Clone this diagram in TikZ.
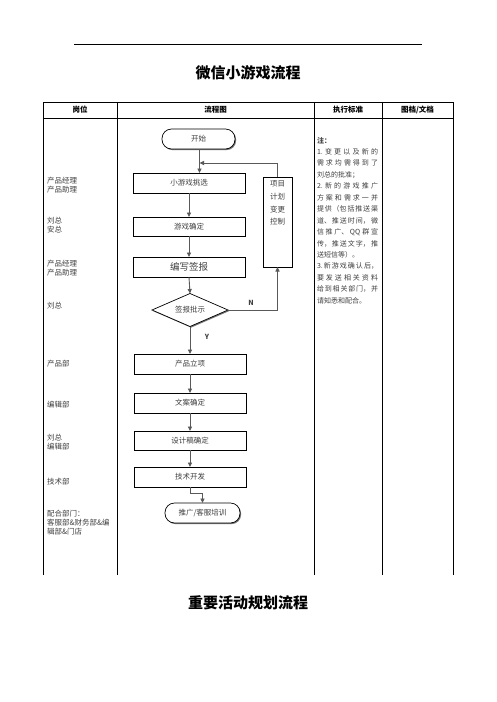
\documentclass[tikz,border=0pt]{standalone}
\usepackage{fontspec}
\setmainfont{Noto Sans CJK SC}
\usetikzlibrary{arrows.meta,shapes.geometric,shadows}
\XeTeXlinebreaklocale "zh"
\XeTeXlinebreakskip=0pt plus 3pt
\definecolor{txt}{gray}{0.25}
\definecolor{conn}{gray}{0.35}
\tikzset{
  every node/.style={inner sep=0pt, outer sep=0pt},
  grid/.style={line width=0.8pt, black},
  head/.style={font=\fontsize{7.5}{9}\selectfont\bfseries},
  ttl/.style={font=\fontsize{15}{17}\selectfont\bfseries},
  role/.style={anchor=west, align=left, text=txt, font=\fontsize{7.5}{9}\selectfont},
  shad/.style={drop shadow={shadow xshift=1.1pt, shadow yshift=-1.1pt, fill=black!55, opacity=1}},
  stepbox/.style={draw, line width=0.7pt, fill=white, shad, minimum width=112pt, minimum height=20pt, text=txt, font=\fontsize{7.5}{9}\selectfont},
  term/.style={draw, line width=0.7pt, fill=white, shad, rounded corners=9.5pt, minimum height=20pt, text=txt, font=\fontsize{7.5}{9}\selectfont},
  decide/.style={draw, line width=0.7pt, fill=white, shad, shape=diamond, aspect=2.3, minimum width=76pt, minimum height=33pt, text=txt, font=\fontsize{7.5}{9}\selectfont},
  arr/.style={draw=conn, line width=0.9pt, -{Triangle[width=4pt,length=4.5pt]}},
  lbl/.style={font=\fontsize{7}{8}\selectfont\bfseries, text=txt},
}
\begin{document}
\begin{tikzpicture}[x=1pt,y=-1pt]
\useasboundingbox (0,0) rectangle (496,702);
\fill[white] (0,0) rectangle (496,702);

% top rule
\draw[line width=0.8pt] (74,44) -- (422,44);
\node[ttl] (t1) at (248,73) {微信小游戏流程};
\node[ttl] (t2) at (248,603) {重要活动规划流程};

% table
\draw[grid] (43,102) -- (453,102);
\draw[grid] (43,118) -- (453,118);
\foreach \x in {43,117,314,382,453} \draw[grid] (\x,102) -- (\x,575);
\node[head] (h1) at (80,110) {岗位};
\node[head] (h2) at (215.5,110) {流程图};
\node[head] (h3) at (348,110) {执行标准};
\node[head] (h4) at (417.5,110) {图档/文档};

% roles
\node[role] (r1) at (47,185) {产品经理\\产品助理};
\node[role] (r2) at (47,225.5) {刘总\\安总};
\node[role] (r3) at (47,268.5) {产品经理\\产品助理};
\node[role] (r4) at (47,306) {刘总};
\node[role] (r5) at (47,364) {产品部};
\node[role] (r6) at (47,405) {编辑部};
\node[role] (r7) at (47,442.5) {刘总\\编辑部};
\node[role] (r8) at (47,482) {技术部};
\node[role] (r9) at (47,522.5) {配合部门：\\客服部\&财务部\&编\\辑部\&门店};

% flow nodes
\node[term, minimum width=73pt] (start) at (198.5,139) {开始};
\node[stepbox] (b1) at (189,183) {小游戏挑选};
\node[stepbox, minimum height=19pt] (b2) at (189,226.5) {游戏确定};
\node[stepbox, font=\fontsize{9.5}{11}\selectfont] (b3) at (189,267) {编写签报};
\node[decide] (d) at (190,310) {签报批示};
\node[stepbox] (b4) at (190,364) {产品立项};
\node[stepbox] (b5) at (190,403) {文案确定};
\node[stepbox, minimum height=19pt] (b6) at (190,440.5) {设计稿确定};
\node[stepbox] (b7) at (190,477) {技术开发};
\node[term, minimum width=75pt] (end) at (202.5,513) {推广/客服培训};
\node[stepbox, minimum width=29pt, minimum height=90pt] (proj) at (277.5,222) {};
\node[anchor=north, align=center, text=txt, font=\fontsize{7.5}{12.6}\selectfont] (projt) at (277.5,181) {项目\\计划\\变更\\控制};

% connectors
\coordinate (fb) at (199.5,163);
\draw[arr] (start.south -| fb) -- (fb |- b1.north);
\draw[arr] (proj.north) |- (fb);
\draw[arr] (b1) -- (b2);
\draw[arr] (b2) -- (b3);
\draw[arr] (b3.south) -- (d.north);
\draw[arr] (d.south) -- (b4.north);
\draw[arr] (b4) -- (b5);
\draw[arr] (b5) -- (b6);
\draw[arr] (b6) -- (b7);
\draw[arr] (b7.south) -- ++(0,6) -| (end.north);
\draw[arr] (d.east) -| (proj.south);
\node[lbl] (n) at (251,303) {N};
\node[lbl] (y) at (207,337) {Y};

% notes
\node[anchor=north west, text width=61pt, align=justify, text=txt, font=\fontsize{7}{11.45}\selectfont] (notes) at (317,137) {%
{\bfseries 注：}\\
1.变更以及新的\linebreak
需求均需得到了\linebreak
刘总的批准；\\
2.新的游戏推广\linebreak
方案和需求一并\linebreak
提供（包括推送渠\linebreak
道、推送时间，微\linebreak
信推广、QQ 群宣\linebreak
传，推送文字，推\linebreak
送短信等）。\\
3.新游戏确认后，\linebreak
要发送相关资料\linebreak
给到相关部门，并\linebreak
请知悉和配合。};
\end{tikzpicture}
\end{document}
